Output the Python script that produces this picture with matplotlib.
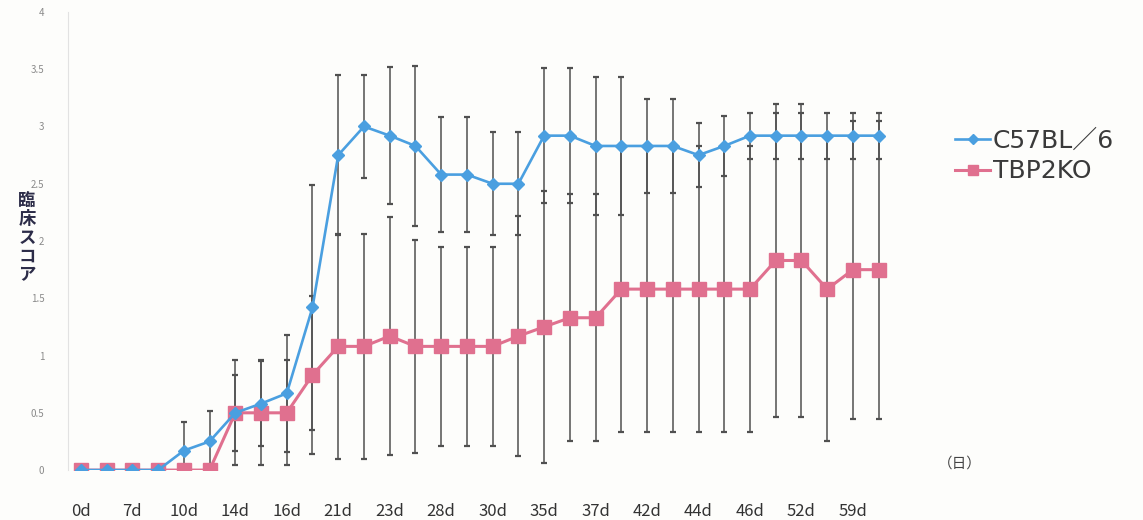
import matplotlib
matplotlib.use("Agg")
import matplotlib.pyplot as plt
import numpy as np

plt.rcParams['font.family'] = ['Noto Sans CJK JP', 'DejaVu Sans']

# Observation days (every other day is labelled on the axis)
day_labels = ["0d", "7d", "10d", "14d", "16d", "21d", "23d", "28d",
              "30d", "35d", "37d", "42d", "44d", "46d", "52d", "59d"]
n_points = 32

# Mean clinical score per time point
c57_mean = [0, 0, 0, 0, 0.17, 0.25, 0.5, 0.58, 0.67, 1.42, 2.75, 3.0, 2.92, 2.83,
            2.58, 2.58, 2.5, 2.5, 2.92, 2.92, 2.83, 2.83, 2.83, 2.83, 2.75, 2.83,
            2.92, 2.92, 2.92, 2.92, 2.92, 2.92]
tbp_mean = [0, 0, 0, 0, 0, 0, 0.5, 0.5, 0.5, 0.83, 1.08, 1.08, 1.17, 1.08,
            1.08, 1.08, 1.08, 1.17, 1.25, 1.33, 1.33, 1.58, 1.58, 1.58, 1.58, 1.58,
            1.58, 1.83, 1.83, 1.58, 1.75, 1.75]

# Standard deviations
c57_sd = [0, 0, 0, 0, 0.25, 0.27, 0.33, 0.37, 0.51, 1.07, 0.7, 0.45, 0.6, 0.7,
          0.5, 0.5, 0.45, 0.45, 0.59, 0.59, 0.6, 0.6, 0.41, 0.41, 0.28, 0.26,
          0.2, 0.2, 0.2, 0.2, 0.2, 0.2]
tbp_sd = [0, 0, 0, 0, 0, 0, 0.46, 0.46, 0.46, 0.69, 0.98, 0.98, 1.04, 0.93,
          0.87, 0.87, 0.87, 1.05, 1.19, 1.08, 1.08, 1.25, 1.25, 1.25, 1.25, 1.25,
          1.25, 1.37, 1.37, 1.33, 1.3, 1.3]

series_names = ["C57BL／6", "TBP2KO"]
y_ticks = [0, 0.5, 1, 1.5, 2, 2.5, 3, 3.5, 4]
y_tick_labels = ["0", "0.5", "1", "1.5", "2", "2.5", "3", "3.5", "4"]

blue = "#4a9fe0"
pink = "#e0708f"
err_col = "#505050"

fig = plt.figure(figsize=(11.43, 5.2), dpi=100)
fig.patch.set_facecolor("#fdfdfb")
ax = fig.add_axes([0.0595, 0.096, 0.7205, 0.881])
ax.set_facecolor("#fdfdfb")

x = np.arange(n_points)

# error bars first, so the lines sit on top
for mean, sd in ((c57_mean, c57_sd), (tbp_mean, tbp_sd)):
    ax.errorbar(x, mean, yerr=sd, fmt="none", ecolor=err_col, elinewidth=1.1,
                capsize=2.5, capthick=1.6, zorder=2)

ax.plot(x, c57_mean, color=blue, lw=1.9, marker="D", ms=6.5,
        markeredgecolor=blue, label=series_names[0], zorder=4)
ax.plot(x, tbp_mean, color=pink, lw=2.2, marker="s", ms=9.5,
        markeredgecolor=pink, label=series_names[1], zorder=3)

ax.set_xlim(-0.5, n_points - 0.5)
ax.set_ylim(0, 4)
ax.set_xticks(x[::2])
ax.set_xticklabels(day_labels, fontsize=12, color="#333333")
ax.set_yticks(y_ticks)
ax.set_yticklabels(y_tick_labels, fontsize=7, color="#8a8a8a")
ax.tick_params(axis="x", length=0, pad=24)
ax.tick_params(axis="y", length=0, pad=17)

for side in ("top", "right", "bottom"):
    ax.spines[side].set_visible(False)
ax.spines["left"].set_color("#e2e2e2")
ax.spines["left"].set_linewidth(0.8)

# vertical axis title with stacked characters
fig.text(0.0235, 0.542, "臨\n床\nス\nコ\nア", fontsize=12.5, color="#2c2c48",
         ha="center", va="center", linespacing=1.05, fontweight="bold")

fig.text(0.84, 0.108, "（日）", fontsize=10.5, color="#444444",
         ha="center", va="center")

leg = ax.legend(loc="upper left", bbox_to_anchor=(0.816, 0.795),
                bbox_transform=fig.transFigure, frameon=False,
                prop={"family": ["DejaVu Sans", "Noto Sans CJK JP"], "size": 18},
                handlelength=1.4, handletextpad=0.1,
                labelspacing=0.25, markerscale=0.75)
for t in leg.get_texts():
    t.set_color("#3a3a3a")

fig.savefig("out.png", dpi=100, facecolor=fig.get_facecolor())
